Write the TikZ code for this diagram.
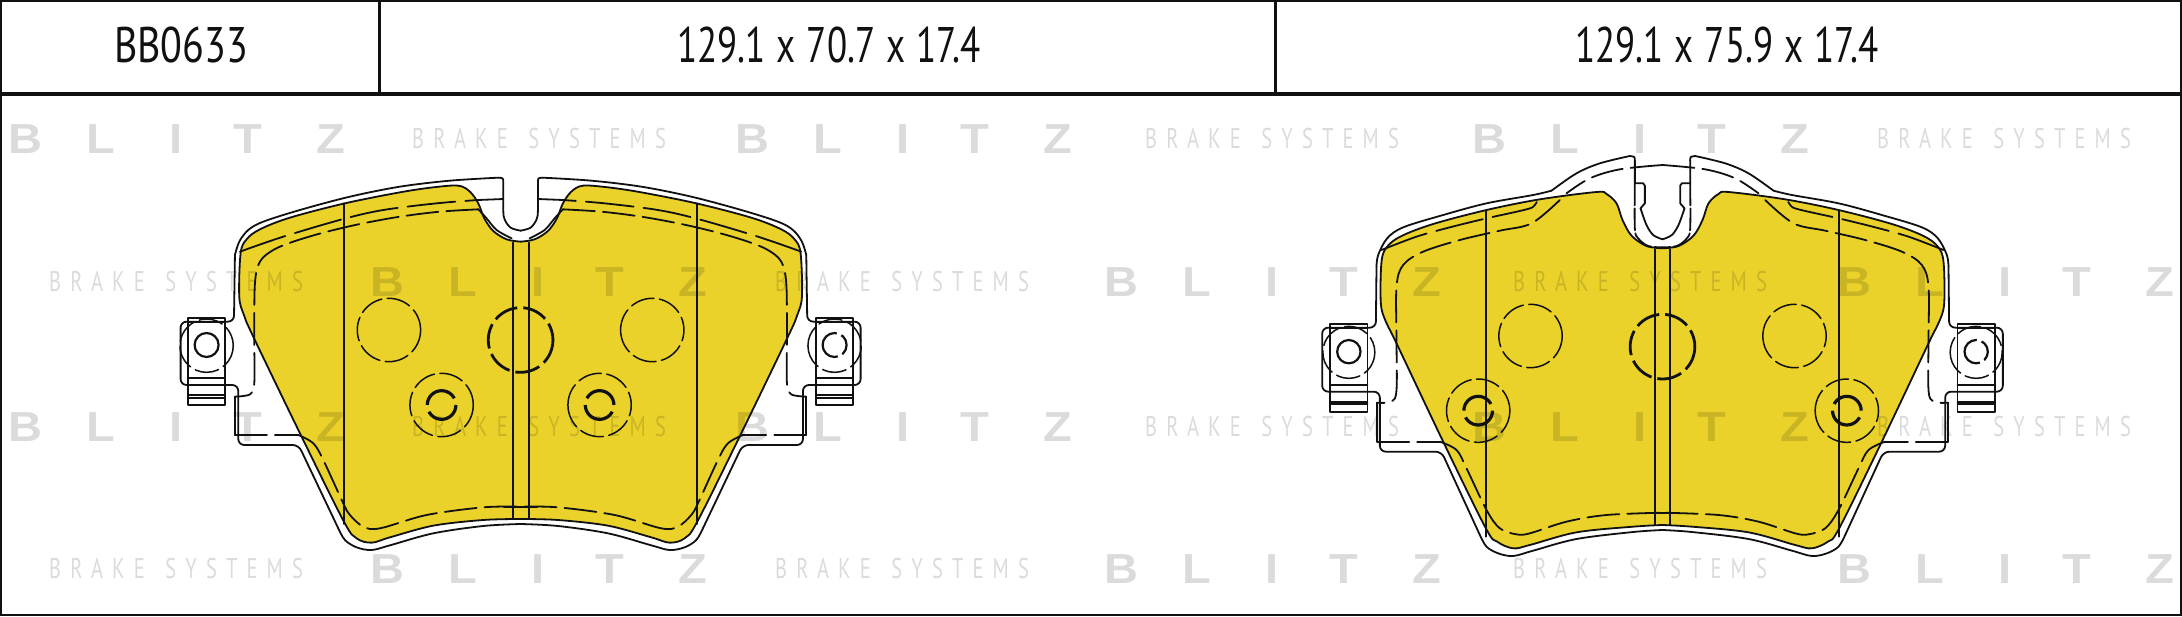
\documentclass[tikz,border=0pt]{standalone}
\usepackage{fontspec}
\setmainfont{Liberation Sans}
\newfontfamily\hdfont[FakeStretch=0.8]{PT Sans}
\newfontfamily\szfont[FakeStretch=0.74]{PT Sans}
\newfontfamily\bsfont[FakeStretch=0.72,LetterSpace=32]{PT Sans}
\newfontfamily\blfont[FakeStretch=1.12]{Liberation Sans}
\definecolor{padyellow}{HTML}{EBD22B}
\definecolor{inkline}{HTML}{111111}
\tikzset{
  pl/.style={draw=inkline,line width=1.8pt,line cap=round,line join=round},
  dA/.style={pl,dash pattern=on 32pt off 8pt},
  dB/.style={pl,dash pattern=on 48pt off 10pt},
  holethin/.style={pl,line width=1.5pt,dash pattern=on 24pt off 5.5pt},
  holethick/.style={pl,line width=2.8pt,line cap=butt,dash pattern=on 25pt off 6pt},
  holeinner/.style={pl,line width=3.2pt,line cap=butt,dash pattern=on 38pt off 7pt},
  boltin/.style={pl,line width=2.2pt,line cap=butt,dash pattern=on 22pt off 5pt},
  frame/.style={draw=inkline,line width=1.6pt},
  wm/.style={inner sep=0pt,anchor=base west,black,opacity=.14},
  hd/.style={inner sep=0pt,anchor=base,text=inkline},
  sm/.style={smooth,tension=.55}
}
\newcommand{\BL}[2]{\node[wm] (bl#1) at (#2) {\blfont\fontsize{42}{42}\selectfont\bfseries B\hspace*{44pt}L\hspace*{55pt}I\hspace*{51pt}T\hspace*{54pt}Z};}
\newcommand{\BS}[2]{\node[wm] (bs#1) at (#2) {\bsfont\fontsize{28.5}{28.5}\selectfont BRAKE\hspace*{6pt} SYSTEMS};}
\newcommand{\yellowA}[1]{\path[#1] plot[sm] coordinates {(1112,275)(1070,268)(1030,243)(1003,205)(985,160)(960,125)(925,107)(850,112)(750,127)(585,160)(420,203)(330,238)(290,268)(272,310)(268,440)(282,495)(310,560)(455,860)(582,1115)(620,1165)(665,1178)(720,1162)(850,1127)(1000,1110)(1112,1107)};}
\newcommand{\yellowB}[1]{\path[#1] plot[sm] coordinates {(1088,325)(1040,318)(995,287)(968,240)(950,190)(920,162)(890,156)(720,178)(560,210)(400,252)(305,288)(262,320)(245,365)(243,490)(258,545)(290,610)(430,905)(558,1165)(592,1205)(640,1225)(690,1215)(830,1177)(1000,1160)(1088,1155)};}
% half pad A, in coordinates of the left half
\newcommand{\padAlines}[1]{
  \yellowA{pl}
  \draw[pl] plot[sm] coordinates {(1112,242)(1082,233)(1064,208)(1060,180)(1060,98)} .. controls (1060,84) .. (1046,83);
  \draw[pl] plot[sm] coordinates {(1046,83)(900,92)(750,110)(600,140)(450,180)(340,215)(295,240)(268,275)(255,315)};
  \draw[pl,rounded corners=6pt] (255,315) -- (252,515) -- (92,515) -- (92,705) -- (265,705) -- (265,885) -- (446,885) -- (565,1135);
  \draw[pl] plot[sm] coordinates {(565,1135)(585,1170)(620,1192)(665,1200)(720,1186)(850,1150)(1000,1128)(1112,1122)};
  \draw[dB] plot[sm] coordinates {(270,305)(400,260)(580,207)(700,180)(860,160)(985,150)};
  \draw[pl] (985,150) -- (1060,147);
  \draw[dA] plot[sm] coordinates {(985,178)(870,185)(750,200)(630,222)(520,248)(430,275)(370,300)(330,335)(315,400)(313,560)(313,700)(300,733)(255,740)};
  \draw[pl] (255,740) -- (255,855);
  \draw[dA] (255,855) -- (445,855);
  \draw[dA] plot[sm] coordinates {(445,855)(490,880)(520,930)(580,1060)(600,1095)(640,1130)(690,1135)(830,1095)(1000,1072)(1112,1070)};
  \draw[pl] plot[sm] coordinates {(985,178)(1010,205)(1040,240)(1085,265)};
  \draw[pl] (582,160) -- (582,1122);
  \draw[pl] (1088,278) -- (1088,1107);
  \draw[pl] (1062,1070) -- (1112,1070);
  \draw[holethin] (717,540) circle (95);
  \draw[holethin] (875,765) circle (95);
  \draw[holeinner] (875,765) circle (43);
  \draw[pl] (115,505) rectangle (225,765);
  \draw[pl] (115,515) -- (225,515);
  \draw[pl] (115,735) -- (225,735) (115,743) -- (225,743);
  \draw[pl,dash pattern=on 45pt off 4pt] (115,685) -- (225,685);
  \draw[holethin] (170,587) circle (80);
  \draw[#1] (170,585) circle (36);
}
\newcommand{\padBlines}[1]{
  \yellowB{pl}
  \draw[pl] (1005,62) -- (1005,130) -- (1030,130) -- (1035,137) -- (1035,190) -- (1022,205);
  \draw[pl] plot[sm] coordinates {(1022,205)(1040,255)(1060,285)(1088,298)};
  \draw[pl,dash pattern=on 22pt off 3pt] plot[sm] coordinates {(1005,130)(1005,265)(1015,295)(1045,318)(1088,322)};
  \draw[pl] (1005,62) .. controls (1005,50) .. (990,48);
  \draw[pl] plot[sm] coordinates {(990,48)(900,70)(830,100)(755,152)};
  \draw[pl] plot[sm] coordinates {(755,152)(700,165)(560,190)(430,225)(310,262)(262,295)(235,345)(230,380)};
  \draw[pl,rounded corners=6pt] (230,380) -- (228,563) -- (67,563) -- (67,755) -- (240,755) -- (240,935) -- (425,935) -- (540,1185);
  \draw[pl] plot[sm] coordinates {(540,1185)(560,1220)(595,1240)(640,1248)(700,1232)(830,1197)(1000,1176)(1088,1170)};
  \draw[dA] plot[sm] coordinates {(1088,75)(960,88)(870,115)(800,160)};
  \draw[dA] plot[sm] coordinates {(780,180)(695,250)(600,272)(480,300)(370,335)(310,375)(290,440)(290,600)(290,750)(275,785)(232,788)};
  \draw[dB] plot[sm] coordinates {(245,330)(350,290)(450,262)(560,235)(680,208)(705,195)(720,165)};
  \draw[pl] (232,788) -- (232,905);
  \draw[dA] (232,905) -- (420,905);
  \draw[dA] plot[sm] coordinates {(420,905)(470,930)(500,985)(560,1110)(600,1165)(650,1183)(690,1180)(800,1145)(920,1125)(1088,1118)};
  \draw[pl] (558,212) -- (558,1190);
  \draw[pl] (1065,328) -- (1065,1155);
  \draw[pl] (1040,1118) -- (1088,1118);
  \draw[holethin] (692,588) circle (95);
  \draw[holethin] (535,812) circle (95);
  \draw[holeinner] (535,812) circle (43);
  \draw[pl] (90,553) rectangle (203,815);
  \draw[pl] (90,563) -- (203,563);
  \draw[pl] (90,785) -- (203,785) (90,793) -- (203,793);
  \draw[pl,dash pattern=on 45pt off 4pt] (90,735) -- (203,735);
  \draw[holethin] (147,637) circle (78);
  \draw[#1] (147,635) circle (35);
}
\begin{document}
\begin{tikzpicture}[x=1pt,y=-1pt]
\useasboundingbox (0,0) rectangle (2182,616);
\fill[white] (0,0) rectangle (2182,616);
% yellow friction faces
\foreach \sx in {1,-1}{
  \begin{scope}[shift={(520.6,150)},xscale=\sx/3,yscale=1/3,shift={(-1112,0)}]
    \yellowA{fill=padyellow}
    \fill[padyellow] (1095,280) rectangle (1125,1105);
  \end{scope}
  \begin{scope}[shift={(1662.5,140)},xscale=\sx/3,yscale=1/3,shift={(-1088,0)}]
    \yellowB{fill=padyellow}
    \fill[padyellow] (1072,328) rectangle (1102,1153);
  \end{scope}
}
% watermark rows
\BL{a}{8,153} \BS{a}{412,148} \BL{b}{735,153} \BS{b}{1145,148} \BL{c}{1472,153} \BS{c}{1877,148}
\BS{d}{49,291} \BL{d}{370,296} \BS{e}{775,291} \BL{e}{1104,296} \BS{f}{1513,291} \BL{f}{1837,296}
\BL{g}{8,441} \BS{g}{412,436} \BL{h}{735,441} \BS{h}{1145,436} \BL{i}{1472,441} \BS{i}{1877,436}
\BS{j}{49,578} \BL{j}{370,583} \BS{k}{775,578} \BL{k}{1104,583} \BS{l}{1513,578} \BL{l}{1837,583}
% pad drawings
\begin{scope}[shift={(520.6,150)},xscale=1/3,yscale=1/3,shift={(-1112,0)}]
  \padAlines{pl,line width=2.2pt}
\end{scope}
\begin{scope}[shift={(520.6,150)},xscale=-1/3,yscale=1/3,shift={(-1112,0)}]
  \padAlines{boltin}
\end{scope}
\begin{scope}[shift={(520.6,150)},xscale=1/3,yscale=1/3,shift={(-1112,0)}]
  \draw[holethick] (1112,570) circle (97);
\end{scope}
\begin{scope}[shift={(1662.5,140)},xscale=1/3,yscale=1/3,shift={(-1088,0)}]
  \padBlines{pl,line width=2.2pt}
\end{scope}
\begin{scope}[shift={(1662.5,140)},xscale=-1/3,yscale=1/3,shift={(-1088,0)}]
  \padBlines{boltin}
\end{scope}
\begin{scope}[shift={(1662.5,140)},xscale=1/3,yscale=1/3,shift={(-1088,0)}]
  \draw[holethick] (1088,620) circle (97);
\end{scope}
% header table
\draw[frame] (1,1) rectangle (2181,615);
\draw[draw=inkline,line width=3.4pt] (0,94) -- (2182,94);
\draw[draw=inkline,line width=3pt] (379,0) -- (379,94);
\draw[draw=inkline,line width=3pt] (1275,0) -- (1275,94);
\node[hd] (code) at (181,62) {\hdfont\fontsize{50}{50}\selectfont BB0633};
\node[hd] (frontsize) at (829,62) {\szfont\fontsize{50}{50}\selectfont\spaceskip=11pt 129.1 x 70.7 x 17.4};
\node[hd] (rearsize) at (1727,62) {\szfont\fontsize{50}{50}\selectfont\spaceskip=11pt 129.1 x 75.9 x 17.4};
\end{tikzpicture}
\end{document}
